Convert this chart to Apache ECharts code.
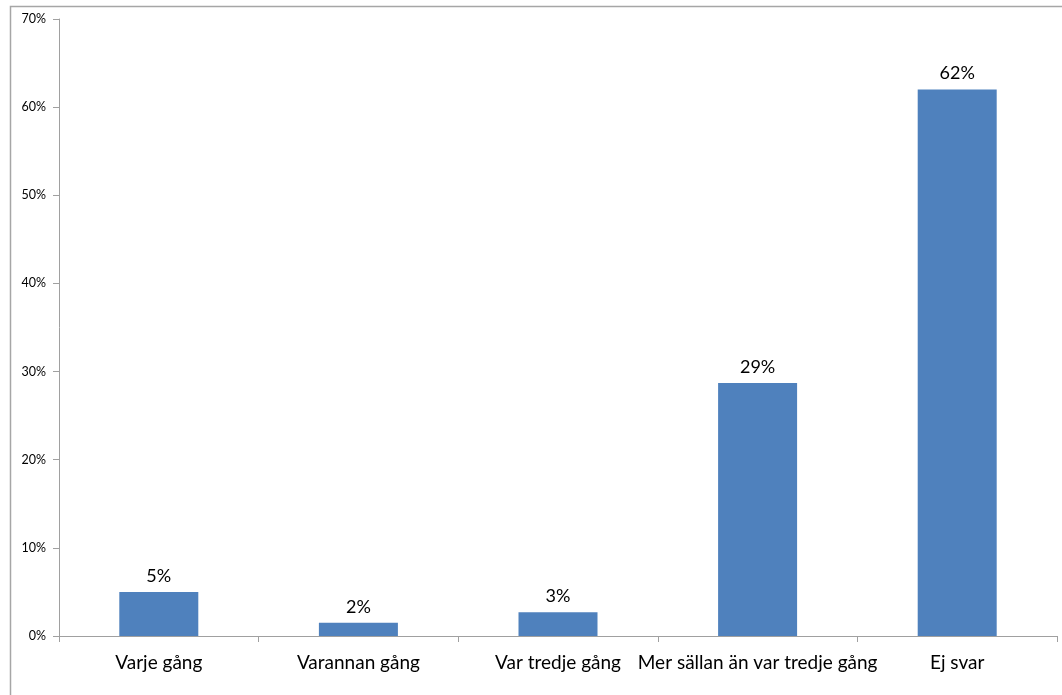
<!DOCTYPE html>
<html><head><meta charset="utf-8">
<script src="https://cdn.jsdelivr.net/npm/echarts@6/dist/echarts.min.js"></script>
<style>html,body{margin:0;padding:0;background:#fff}#c{width:1062px;height:695px}</style>
</head><body><div id="c"></div>
<script>
var categories = ["Varje gång", "Varannan gång", "Var tredje gång", "Mer sällan än var tredje gång", "Ej svar"];
var values = [5.0, 1.5, 2.7, 28.7, 62.0];
var yTicks = [0, 10, 20, 30, 40, 50, 60, 70];

var chart = echarts.init(document.getElementById('c'), null, {renderer: 'canvas'});
var font = "Lato, 'Open Sans', sans-serif";
chart.setOption({
  animation: false,
  backgroundColor: '#fff',
  graphic: [{
    type: 'rect', left: 8, top: 4, shape: {width: 1070, height: 700},
    style: {fill: 'none', stroke: '#a6a6a6', lineWidth: 1.5}, silent: true
  }],
  grid: {left: 59, top: 19, right: 5, bottom: 59, containLabel: false},
  xAxis: {
    type: 'category', data: categories,
    axisLine: {lineStyle: {color: '#a0a0a0', width: 1}},
    axisTick: {show: true, alignWithLabel: false, length: 6, lineStyle: {color: '#a0a0a0'}},
    axisLabel: {color: '#000', fontSize: 19, fontFamily: font, margin: 17, interval: 0}
  },
  yAxis: {
    type: 'value', min: yTicks[0], max: yTicks[yTicks.length - 1], interval: 10,
    axisLine: {show: true, lineStyle: {color: '#a0a0a0', width: 1}},
    axisTick: {show: true, length: 6, lineStyle: {color: '#a0a0a0'}},
    splitLine: {show: false},
    axisLabel: {color: '#000', fontSize: 12.5, fontFamily: font, margin: 13, formatter: '{value}%'}
  },
  series: [{
    type: 'bar', data: values, barWidth: 79,
    itemStyle: {color: '#4F81BD'},
    label: {show: true, position: 'top', distance: 7, color: '#000', fontSize: 18, fontFamily: font,
      formatter: function(p){ return Math.round(p.value) + '%'; }}
  }]
});
</script></body></html>
